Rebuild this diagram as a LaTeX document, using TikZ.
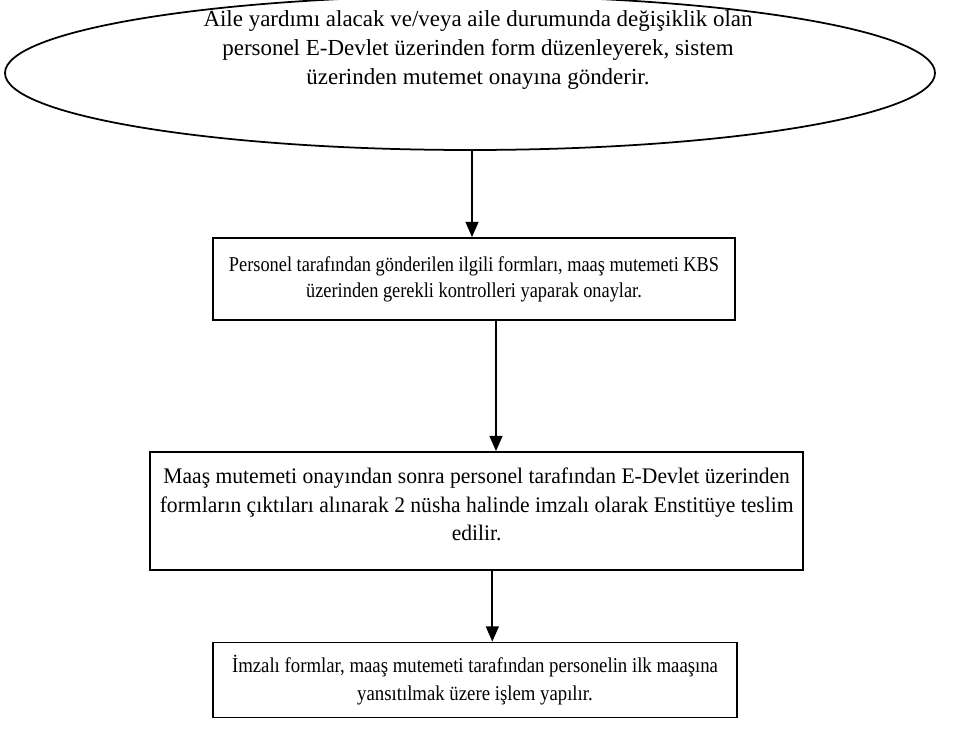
\documentclass[tikz,border=0pt]{standalone}
\usepackage{fontspec}
\setmainfont{Liberation Serif}
\usetikzlibrary{shapes.geometric}
\usetikzlibrary{arrows.meta}

\tikzset{
  stepbox/.style={draw, line width=1.5pt, inner sep=0pt},
  steptext/.style={align=center, inner sep=0pt, transform shape},
  flow/.style={-{Triangle[length=13pt, width=11pt]}, line width=1.5pt}
}

\begin{document}
\begin{tikzpicture}
            \useasboundingbox (0, 0) rectangle (28.8, -22.41);

            \node[ellipse, draw, line width=1.5pt, minimum width=27.9cm, minimum height=4.62cm] (start) at (14.1, -2.19) {};
            \node[steptext, font=\fontsize{19.6}{24.6}\selectfont] (starttext) at (14.34, -1.5)
                {Aile yardımı alacak ve/veya aile durumunda değişiklik olan\\
                 personel E-Devlet üzerinden form düzenleyerek, sistem\\
                 üzerinden mutemet onayına gönderir.};

            \node[stepbox, minimum width=15.66cm, minimum height=2.46cm] (approve) at (14.22, -8.37) {};
            \node[steptext, xscale=0.87, font=\fontsize{18}{22.2}\selectfont] (approvetext) at (approve.center)
                {Personel tarafından gönderilen ilgili formları, maaş mutemeti KBS\\
                 üzerinden gerekli kontrolleri yaparak onaylar.};

            \node[stepbox, minimum width=19.59cm, minimum height=3.54cm] (deliver) at (14.3, -15.33) {};
            \node[steptext, xscale=0.97, font=\fontsize{19}{24.6}\selectfont] (delivertext) at ([yshift=0.2cm]deliver.center)
                {Maaş mutemeti onayından sonra personel tarafından E-Devlet üzerinden\\
                 formların çıktıları alınarak 2 nüsha halinde imzalı olarak Enstitüye teslim\\
                 edilir.};

            \node[stepbox, minimum width=15.72cm, minimum height=2.25cm] (salary) at (14.25, -20.4) {};
            \node[steptext, xscale=0.89, font=\fontsize{18}{23.8}\selectfont] (salarytext) at (salary.center)
                {İmzalı formlar, maaş mutemeti tarafından personelin ilk maaşına\\
                 yansıtılmak üzere işlem yapılır.};

            \draw[flow] ([xshift=0.06cm]start.south) -- ([xshift=0.06cm]start.south |- approve.north);
            \draw[flow] ([xshift=0.66cm]approve.south) -- ([xshift=0.66cm]approve.south |- deliver.north);
            \draw[flow] ([xshift=0.47cm]deliver.south) -- ([xshift=0.47cm]deliver.south |- salary.north);
        \end{tikzpicture}
\end{document}
